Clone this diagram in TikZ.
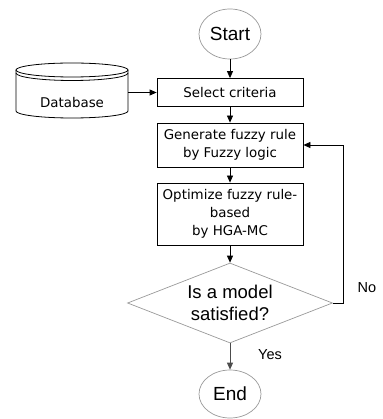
\documentclass[tikz,border=0pt]{standalone}
\usepackage{fontspec}
\setmainfont{Liberation Sans}
\newfontfamily\dvs{DejaVu Sans}
\usetikzlibrary{shapes.geometric,arrows.meta}
\begin{document}
\begin{tikzpicture}[x=1pt,y=-1pt,
  box/.style={draw=black, line width=0.8pt, minimum width=146pt, inner sep=0pt, align=center, font=\dvs\fontsize{13.4}{18}\selectfont},
  term/.style={ellipse, draw=black!40, line width=0.7pt, minimum width=62pt, minimum height=50pt, inner sep=0pt, font=\fontsize{19}{22}\selectfont},
  dec/.style={diamond, draw=black!40, line width=0.7pt, aspect=2.56, minimum width=205pt, minimum height=80pt, inner sep=0pt, align=center, font=\fontsize{18.5}{22}\selectfont},
  arr/.style={-{Triangle[length=7pt,width=6pt]}, line width=0.8pt},
  lbl/.style={inner sep=0pt, font=\fontsize{14.5}{17}\selectfont},
  cyl/.style={draw=black, line width=0.8pt}]
\useasboundingbox (0,0) rectangle (382,419);
% database cylinder
\draw[cyl] (16,70) -- (16,111) arc[start angle=180, end angle=0, x radius=56, y radius=7] -- (128,70);
\draw[cyl] (72,70) ellipse[x radius=56, y radius=7];
\draw[cyl] (16,73) arc[start angle=180, end angle=0, x radius=56, y radius=7.5];
\node[minimum width=112pt, minimum height=40pt, inner sep=0pt] (db) at (72,92.5) {};
\node[inner sep=0pt, font=\dvs\fontsize{13.4}{18}\selectfont] (dbt) at (72,103) {Database};
% flow
\node[term] (start) at (230,34) {Start};
\node[box, minimum height=28pt] (sel) at (230,92.5) {Select criteria};
\node[box, minimum height=44pt] (gen) at (230,145) {Generate fuzzy rule\\by Fuzzy logic};
\node[box, minimum height=62pt] (opt) at (230,214) {Optimize fuzzy rule-\\based\\by HGA-MC};
\node[dec] (dec) at (230,303) {Is a model\\satisfied?};
\node[term, minimum height=48pt] (end) at (230,394) {End};
\node[lbl] (yes) at (270,355) {Yes};
\node[lbl] (no) at (367,288) {No};
\coordinate (fb) at (343,0);
\draw[arr] (start) -- (sel);
\draw[arr] (db.east) -- (sel.west);
\draw[arr] (sel) -- (gen);
\draw[arr] (gen) -- (opt);
\draw[arr] (opt) -- (dec);
\draw[arr, black!70] (dec.south) -- (end.north);
\draw[arr] (dec.east) -- (dec.east -| fb) |- (gen.east);
\end{tikzpicture}
\end{document}
